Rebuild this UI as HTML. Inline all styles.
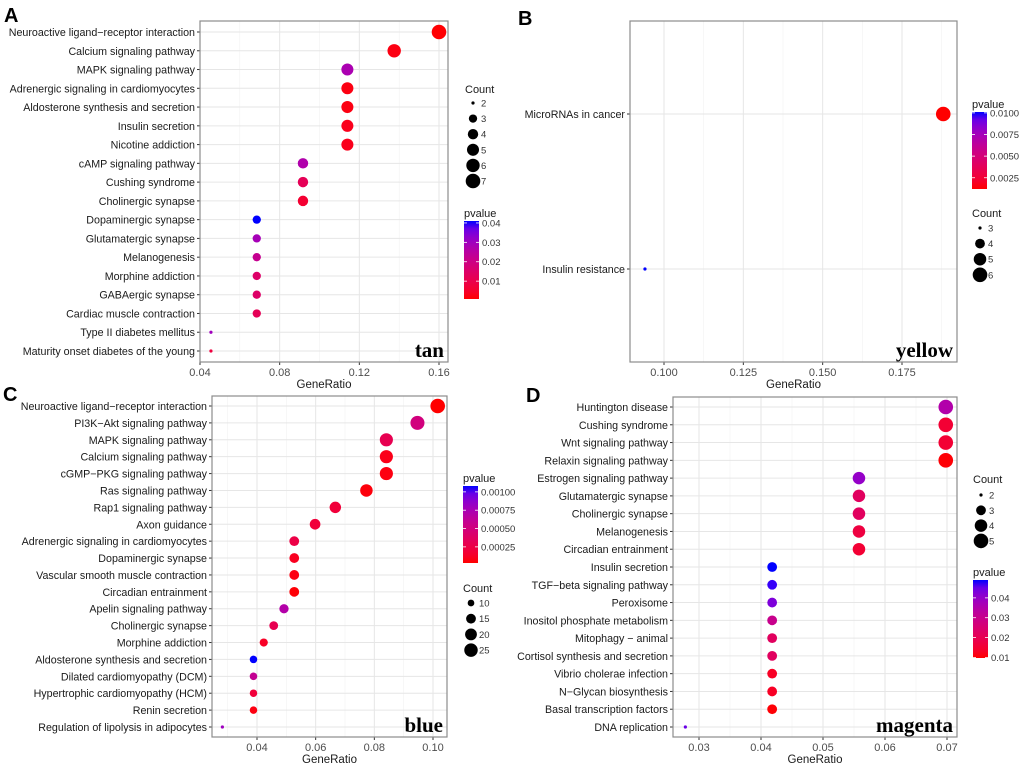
<!DOCTYPE html>
<html><head><meta charset="utf-8"><style>
html,body{margin:0;padding:0;background:#fff;}
svg{display:block;font-family:"Liberation Sans",Arial,sans-serif;}
</style></head><body>
<svg id="fig" width="1020" height="767" viewBox="0 0 1020 767" xmlns="http://www.w3.org/2000/svg"></svg>
<script>
// ---- Panel A (tan) ----
const catsA=["Neuroactive ligand\u2212receptor interaction","Calcium signaling pathway","MAPK signaling pathway","Adrenergic signaling in cardiomyocytes","Aldosterone synthesis and secretion","Insulin secretion","Nicotine addiction","cAMP signaling pathway","Cushing syndrome","Cholinergic synapse","Dopaminergic synapse","Glutamatergic synapse","Melanogenesis","Morphine addiction","GABAergic synapse","Cardiac muscle contraction","Type II diabetes mellitus","Maturity onset diabetes of the young"];
const ratioA=[0.16,0.1375,0.114,0.114,0.114,0.114,0.114,0.0917,0.0917,0.0917,0.0685,0.0685,0.0685,0.0685,0.0685,0.0685,0.0455,0.0455];
const countA=[7,6,5,5,5,5,5,4,4,4,3,3,3,3,3,3,2,2];
const pvalA=[0.001,0.002,0.028,0.002,0.002,0.003,0.003,0.027,0.012,0.006,0.041,0.029,0.022,0.015,0.015,0.012,0.03,0.008];
const ticksA=[0.04,0.08,0.12,0.16];
const tickLabA=["0.04","0.08","0.12","0.16"];
const cntLegA=[2,3,4,5,6,7];
const pLegA=[0.01,0.02,0.03,0.04];
// ---- Panel B (yellow) ----
const catsB=["MicroRNAs in cancer","Insulin resistance"];
const ratioB=[0.188,0.094];
const countB=[6,3];
const pvalB=[0.0012,0.0101];
const ticksB=[0.1,0.125,0.15,0.175];
const tickLabB=["0.100","0.125","0.150","0.175"];
const cntLegB=[3,4,5,6];
const pLegB=[0.0025,0.005,0.0075,0.01];
// ---- Panel C (blue) ----
const catsC=["Neuroactive ligand\u2212receptor interaction","PI3K\u2212Akt signaling pathway","MAPK signaling pathway","Calcium signaling pathway","cGMP\u2212PKG signaling pathway","Ras signaling pathway","Rap1 signaling pathway","Axon guidance","Adrenergic signaling in cardiomyocytes","Dopaminergic synapse","Vascular smooth muscle contraction","Circadian entrainment","Apelin signaling pathway","Cholinergic synapse","Morphine addiction","Aldosterone synthesis and secretion","Dilated cardiomyopathy (DCM)","Hypertrophic cardiomyopathy (HCM)","Renin secretion","Regulation of lipolysis in adipocytes"];
const ratioC=[0.1016,0.0947,0.0841,0.0841,0.0841,0.0773,0.0667,0.0598,0.0527,0.0527,0.0527,0.0527,0.0492,0.0457,0.0423,0.0388,0.0388,0.0388,0.0388,0.0282];
const countC=[29,27,24,24,24,22,19,17,15,15,15,15,14,13,12,11,11,11,11,8];
const pvalC=[0.00003,0.0005,0.0003,0.00008,0.00006,0.00005,0.0002,0.0002,0.00025,0.0001,0.00006,0.00004,0.0007,0.0003,0.00012,0.00108,0.0006,0.0002,0.00006,0.0008];
const ticksC=[0.04,0.06,0.08,0.10];
const tickLabC=["0.04","0.06","0.08","0.10"];
const cntLegC=[10,15,20,25];
const pLegC=[0.00025,0.0005,0.00075,0.001];
// ---- Panel D (magenta) ----
const catsD=["Huntington disease","Cushing syndrome","Wnt signaling pathway","Relaxin signaling pathway","Estrogen signaling pathway","Glutamatergic synapse","Cholinergic synapse","Melanogenesis","Circadian entrainment","Insulin secretion","TGF\u2212beta signaling pathway","Peroxisome","Inositol phosphate metabolism","Mitophagy \u2212 animal","Cortisol synthesis and secretion","Vibrio cholerae infection","N\u2212Glycan biosynthesis","Basal transcription factors","DNA replication"];
const ratioD=[0.0698,0.0698,0.0698,0.0698,0.0558,0.0558,0.0558,0.0558,0.0558,0.0418,0.0418,0.0418,0.0418,0.0418,0.0418,0.0418,0.0418,0.0418,0.0278];
const countD=[5,5,5,5,4,4,4,4,4,3,3,3,3,3,3,3,3,3,2];
const pvalD=[0.035,0.015,0.015,0.01,0.04,0.022,0.022,0.017,0.015,0.049,0.048,0.043,0.03,0.022,0.022,0.013,0.013,0.01,0.045];
const ticksD=[0.03,0.04,0.05,0.06,0.07];
const tickLabD=["0.03","0.04","0.05","0.06","0.07"];
const cntLegD=[2,3,4,5];
const pLegD=[0.01,0.02,0.03,0.04];

const NS="http://www.w3.org/2000/svg";
const svg=document.getElementById('fig');
function mk(tag,attrs,parent,txt){const e=document.createElementNS(NS,tag);for(const k in attrs)e.setAttribute(k,attrs[k]);if(txt!==undefined)e.textContent=txt;(parent||svg).appendChild(e);return e;}
function toLin(c){c/=255;return c<=0.04045?c/12.92:Math.pow((c+0.055)/1.055,2.4);}
function rgb2lab(r,g,b){r=toLin(r);g=toLin(g);b=toLin(b);let X=(r*0.4124+g*0.3576+b*0.1805)/0.95047,Y=r*0.2126+g*0.7152+b*0.0722,Z=(r*0.0193+g*0.1192+b*0.9505)/1.08883;const f=t=>t>0.008856?Math.cbrt(t):7.787*t+16/116;X=f(X);Y=f(Y);Z=f(Z);return[116*Y-16,500*(X-Y),200*(Y-Z)];}
function lab2rgb(L,a,b){let Y=(L+16)/116,X=a/500+Y,Z=Y-b/200;const fi=t=>t*t*t>0.008856?t*t*t:(t-16/116)/7.787;X=fi(X)*0.95047;Y=fi(Y);Z=fi(Z)*1.08883;let r=X*3.2406+Y*-1.5372+Z*-0.4986,g=X*-0.9689+Y*1.8758+Z*0.0415,bb=X*0.0557+Y*-0.2040+Z*1.0570;const gm=c=>{c=c<=0.0031308?12.92*c:1.055*Math.pow(c,1/2.4)-0.055;return Math.max(0,Math.min(255,Math.round(c*255)));};return `rgb(${gm(r)},${gm(g)},${gm(bb)})`;}
const LR=rgb2lab(255,0,0),LB=rgb2lab(0,0,255);
function colT(t){t=Math.max(0,Math.min(1,t));return lab2rgb(LR[0]+(LB[0]-LR[0])*t,LR[1]+(LB[1]-LR[1])*t,LR[2]+(LB[2]-LR[2])*t);}

function panel(o){
  const g=mk('g',{},svg);
  const xs=v=>o.px0+(v-o.v0)/(o.v1-o.v0)*(o.px1-o.px0);
  const n=o.cats.length;
  const ys=i=>n===1?(o.y0+o.y1)/2:o.r0+i*(o.r1-o.r0)/(n-1);
  mk('rect',{x:o.x0,y:o.y0,width:o.x1-o.x0,height:o.y1-o.y0,fill:'#fff'},g);
  const step=o.ticks[1]-o.ticks[0];
  for(let k=-1;k<o.ticks.length;k++){const v=o.ticks[0]+(k+0.5)*step;const x=xs(v);if(x>o.x0&&x<o.x1)mk('line',{x1:x,x2:x,y1:o.y0,y2:o.y1,stroke:'#f2f2f2','stroke-width':0.6},g);}
  o.ticks.forEach((v,i)=>{const x=xs(v);const l=mk('line',{x1:x,x2:x,y1:o.y0,y2:o.y1,stroke:'#e6e6e6','stroke-width':1},g);
    mk('line',{x1:x,x2:x,y1:o.y1,y2:o.y1+3,stroke:'#333','stroke-width':1},g);
    const t=mk('text',{x:x,y:o.y1+14,'font-size':11,'text-anchor':'middle',fill:'#4d4d4d'},g,o.tickLab[i]);});
  o.cats.forEach((c,i)=>{const y=ys(i);mk('line',{x1:o.x0,x2:o.x1,y1:y,y2:y,stroke:'#e6e6e6','stroke-width':1},g);
    mk('line',{x1:o.x0-3,x2:o.x0,y1:y,y2:y,stroke:'#333','stroke-width':1},g);
    const t=mk('text',{x:o.x0-5,y:y+4,'font-size':10.7,'text-anchor':'end',fill:'#1a1a1a'},g,c);});
  const cmin=Math.min(...o.cntLeg,...o.count),cmax=Math.max(...o.cntLeg,...o.count);
  const rs=c=>o.rmin+(o.rmax-o.rmin)*Math.sqrt((c-cmin)/(cmax-cmin||1));
  const ct=p=>(p-o.p0)/(o.p1-o.p0);
  o.cats.forEach((c,i)=>{const d=mk('circle',{cx:xs(o.ratio[i]),cy:ys(i),r:rs(o.count[i]),fill:colT(ct(o.pval[i]))},g);});
  const b=mk('rect',{x:o.x0,y:o.y0,width:o.x1-o.x0,height:o.y1-o.y0,fill:'none',stroke:'#8c8c8c','stroke-width':1.2},g);
  const at=mk('text',{x:(o.x0+o.x1)/2,y:o.y1+26,'font-size':11.5,'text-anchor':'middle',fill:'#1a1a1a'},g,'GeneRatio');
  const mt=mk('text',{x:o.x1-4,y:o.y1-5,'font-size':21,'font-weight':'bold','text-anchor':'end','font-family':'"Liberation Serif",serif',fill:'#000'},g,o.module);
  const pl=mk('text',{x:o.lx,y:o.ly,'font-size':20,'font-weight':'bold',fill:'#000'},g,o.letter);
  const ct1=mk('text',{x:o.cx-8,y:o.cTitleY,'font-size':11,fill:'#1a1a1a'},g,'Count');
  o.cntLeg.forEach((c,i)=>{const y=o.cY0+i*o.cDy;const d=mk('circle',{cx:o.cx,cy:y,r:rs(c),fill:'#000'},g);
    mk('text',{x:o.cx+8,y:y+3.5,'font-size':9.5,fill:'#333'},g,String(c));});
  const pt=mk('text',{x:o.bx,y:o.bTop-4,'font-size':11,fill:'#1a1a1a'},g,'pvalue');
  const gid='grad'+o.letter;const defs=mk('defs',{},g);const lg=mk('linearGradient',{id:gid,x1:0,y1:1,x2:0,y2:0},defs);
  for(let s=0;s<=10;s++)mk('stop',{offset:s/10,'stop-color':colT(s/10)},lg);
  const bar=mk('rect',{x:o.bx,y:o.bTop,width:15,height:o.bBot-o.bTop,fill:'url(#'+gid+')'},g);
  o.pLeg.forEach(p=>{const y=o.bBot-(p-o.p0)/(o.p1-o.p0)*(o.bBot-o.bTop);
    mk('line',{x1:o.bx,x2:o.bx+3,y1:y,y2:y,stroke:'#fff','stroke-width':0.8},g);mk('line',{x1:o.bx+12,x2:o.bx+15,y1:y,y2:y,stroke:'#fff','stroke-width':0.8},g);
    mk('text',{x:o.bx+18,y:y+3.5,'font-size':9.5,fill:'#333'},g,o.pFmt(p));});
}
panel({letter:'A',module:'tan',cats:catsA,ratio:ratioA,count:countA,pval:pvalA,ticks:ticksA,tickLab:tickLabA,cntLeg:cntLegA,pLeg:pLegA,
 x0:200,x1:448,y0:21,y1:362,px0:200,px1:439,v0:0.04,v1:0.16,r0:32,r1:351,rmin:1.6,rmax:7.3,p0:0.0008,p1:0.041,
 lx:4,ly:22,cx:473,cTitleY:93,cY0:103,cDy:15.6,bx:464,bTop:221,bBot:299,pFmt:p=>p.toFixed(2)});
panel({letter:'B',module:'yellow',cats:catsB,ratio:ratioB,count:countB,pval:pvalB,ticks:ticksB,tickLab:tickLabB,cntLeg:cntLegB,pLeg:pLegB,
 x0:630,x1:957,y0:21,y1:362,px0:664,px1:902,v0:0.1,v1:0.175,r0:114,r1:269,rmin:1.6,rmax:7.3,p0:0.0012,p1:0.0101,
 lx:518,ly:25,cx:980,cTitleY:217,cY0:228,cDy:15.6,bx:972,bTop:112,bBot:189,pFmt:p=>p.toFixed(4)});
panel({letter:'C',module:'blue',cats:catsC,ratio:ratioC,count:countC,pval:pvalC,ticks:ticksC,tickLab:tickLabC,cntLeg:cntLegC,pLeg:pLegC,
 x0:212,x1:447,y0:396,y1:737,px0:257,px1:433,v0:0.04,v1:0.10,r0:406,r1:727,rmin:1.6,rmax:7.3,p0:0.00003,p1:0.00108,
 lx:3,ly:401,cx:471,cTitleY:592,cY0:603,cDy:15.7,bx:463,bTop:486,bBot:563,pFmt:p=>p.toFixed(5)});
panel({letter:'D',module:'magenta',cats:catsD,ratio:ratioD,count:countD,pval:pvalD,ticks:ticksD,tickLab:tickLabD,cntLeg:cntLegD,pLeg:pLegD,
 x0:673,x1:957,y0:397,y1:737,px0:699,px1:947,v0:0.03,v1:0.07,r0:407,r1:727,rmin:1.6,rmax:7.3,p0:0.0097,p1:0.049,
 lx:526,ly:402,cx:981,cTitleY:483,cY0:495,cDy:15.3,bx:973,bTop:580,bBot:658,pFmt:p=>p.toFixed(2)});
</script>
</body></html>
